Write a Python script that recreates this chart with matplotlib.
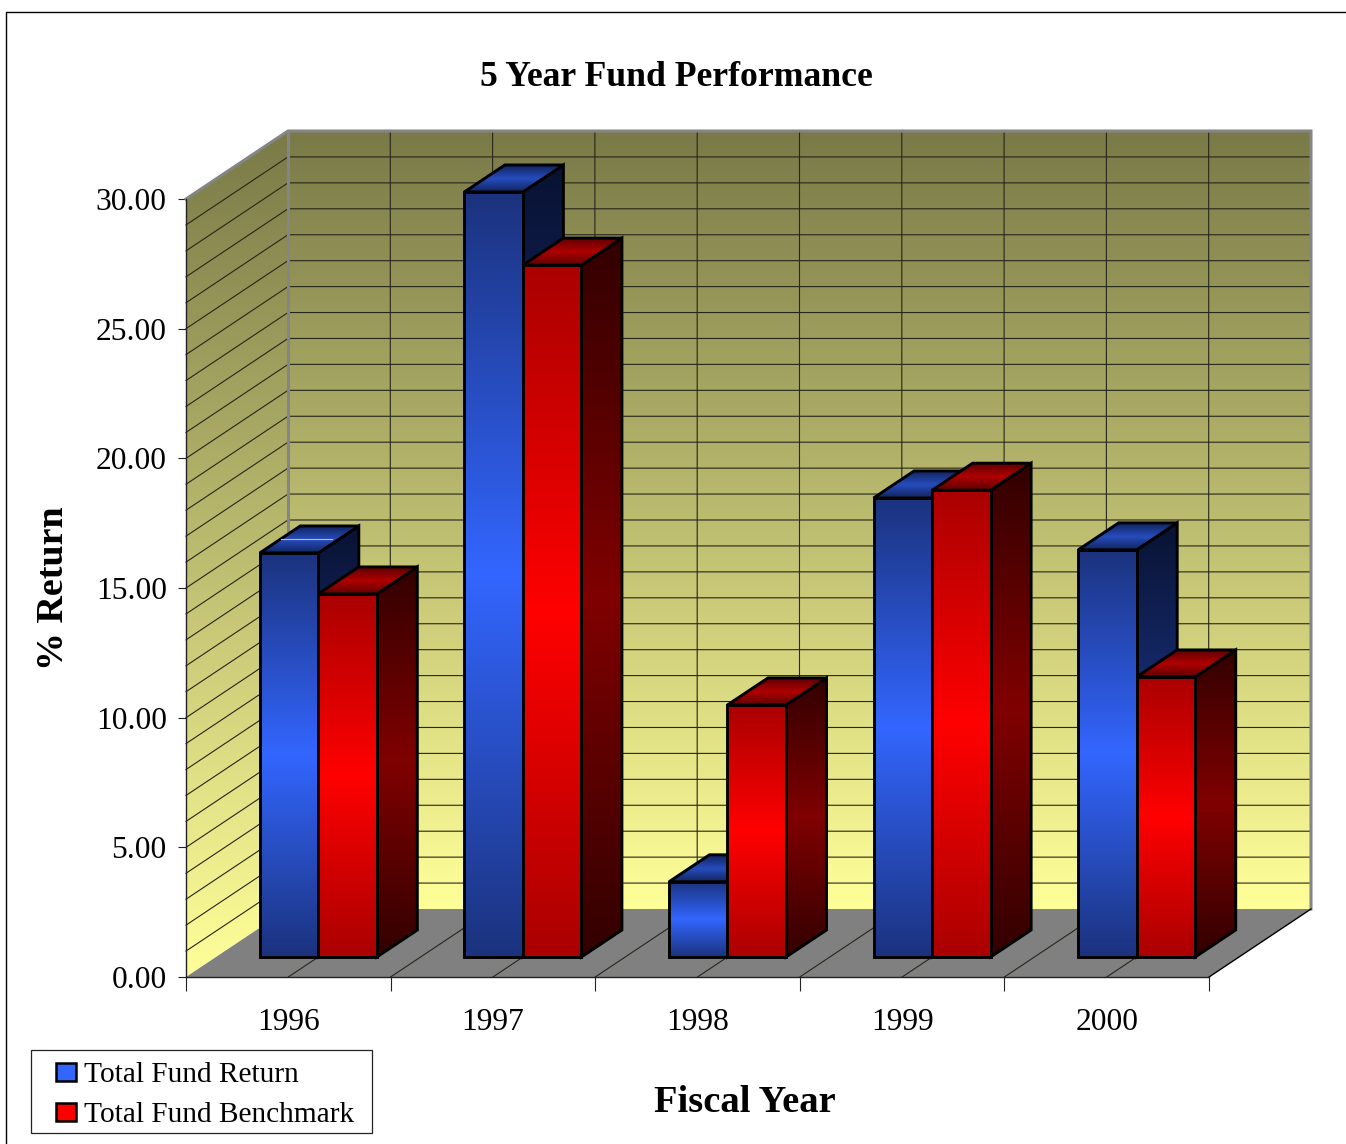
import numpy as np
import matplotlib
matplotlib.use("Agg")
import matplotlib.pyplot as plt
from matplotlib.patches import Polygon, Patch, Rectangle
from matplotlib.lines import Line2D
from matplotlib.legend_handler import HandlerPatch
from matplotlib.colors import LinearSegmentedColormap

years = ["1996", "1997", "1998", "1999", "2000"]
fund_return = [15.58, 29.5, 2.9, 17.7, 15.7]
fund_benchmark = [14.0, 26.68, 9.72, 18.0, 10.8]
y_ticks = [0, 5, 10, 15, 20, 25, 30]

W, H = 1346, 1144
plt.rcParams["font.family"] = ["Liberation Serif", "DejaVu Serif"]
fig = plt.figure(figsize=(W / 100, H / 100), dpi=100, facecolor="white")
L, R, T, B = 186, 1209, 199, 977
ax = fig.add_axes([L / W, 1 - B / H, (R - L) / W, (B - T) / H])
ax.set_xlim(0, 5)
ax.set_ylim(0, 30)
ax.set_autoscale_on(False)
ax.patch.set_visible(False)
ax.set_axisbelow(True)

DX, DY = 0.4985, 68 / (778 / 30)
BAR_W, D0, BD = 0.286, 20 / 68, 27 / 68
z = [0.6]


def nz():
    z[0] += 0.002
    return z[0]


def P(x, v, d):
    return (x + d * DX, v + d * DY)


def cmap(*cols):
    return LinearSegmentedColormap.from_list("c", [np.array(c) / 255 for c in cols])


def grad_poly(pts, cm, ec="none", lw=0):
    pts = np.array(pts)
    x0, x1, y0, y1 = pts[:, 0].min(), pts[:, 0].max(), pts[:, 1].min(), pts[:, 1].max()
    zi = nz()
    pg = Polygon(pts, closed=True, fc="none", ec=ec, lw=lw, joinstyle="miter", clip_on=False, zorder=zi + 0.001)
    ax.add_patch(pg)
    im = ax.imshow(np.linspace(1, 0, 256)[:, None], cmap=cm, vmin=0, vmax=1, extent=[x0, x1, y0, y1],
                   aspect="auto", interpolation="bilinear", origin="upper", zorder=zi)
    im.set_clip_box(fig.bbox)
    im.set_clip_path(pg)
    return pg


# walls and floor
wall_cm = cmap((255, 255, 153), (122, 122, 72))
grad_poly([P(0, 0, 1), P(5, 0, 1), P(5, 30, 1), P(0, 30, 1)], wall_cm)
grad_poly([P(0, 0, 0), P(0, 0, 1), P(0, 30, 1), P(0, 30, 0)], wall_cm)
ax.add_patch(Polygon([P(0, 0, 0), P(5, 0, 0), P(5, 0, 1), P(0, 0, 1)], fc="#808080", ec="none",
                     clip_on=False, zorder=nz()))

GRID = "#26261a"
for v in range(1, 30):
    a, b, c = P(0, v, 0), P(0, v, 1), P(5, v, 1)
    ax.plot([a[0], b[0], c[0]], [a[1], b[1], c[1]], color=GRID, lw=0.8, clip_on=False, zorder=nz())
for k in range(1, 10):
    x = k / 2
    a, b, c = P(x, 0, 0), P(x, 0, 1), P(x, 30, 1)
    ax.plot([a[0], b[0], c[0]], [a[1], b[1], c[1]], color=GRID, lw=0.8, clip_on=False, zorder=nz())

# gray wall borders
a, b, c, d = P(0, 30, 0), P(0, 30, 1), P(5, 30, 1), P(5, 0, 1)
ax.plot([a[0], b[0], c[0], d[0]], [a[1], b[1], c[1], d[1]], color="#858585", lw=2.2, clip_on=False,
        solid_joinstyle="miter", zorder=nz())
e = P(0, 0, 1)
ax.plot([b[0], e[0]], [b[1], e[1]], color="#858585", lw=2.2, clip_on=False, zorder=nz())
f, g = P(5, 0, 0), P(5, 0, 1)
ax.plot([f[0], g[0]], [f[1], g[1]], color="black", lw=1, clip_on=False, zorder=nz())

BLUE = dict(
    front=cmap((27, 50, 125), (51, 102, 255), (27, 50, 125)),
    side=cmap((9, 18, 50), (26, 51, 128), (9, 18, 50)),
    top=cmap((18, 36, 95), (38, 76, 190), (18, 36, 95)),
)
RED = dict(
    front=cmap((170, 0, 0), (255, 0, 0), (170, 0, 0)),
    side=cmap((50, 0, 0), (128, 0, 0), (50, 0, 0)),
    top=cmap((95, 0, 0), (175, 0, 0), (95, 0, 0)),
)


def bar3d(x, v, st):
    lw = 2.1
    x2 = x + BAR_W
    grad_poly([P(x2, 0, D0), P(x2, 0, D0 + BD), P(x2, v, D0 + BD), P(x2, v, D0)], st["side"], "black", lw)
    grad_poly([P(x, v, D0), P(x2, v, D0), P(x2, v, D0 + BD), P(x, v, D0 + BD)], st["top"], "black", lw)
    grad_poly([P(x, 0, D0), P(x2, 0, D0), P(x2, v, D0), P(x, v, D0)], st["front"], "black", lw)


for i in range(len(years)):
    c = i + 0.5
    bar3d(c - BAR_W, fund_return[i], BLUE)
    if i == 0:
        a, b = P(c - BAR_W, fund_return[i], D0 + BD / 2), P(c, fund_return[i], D0 + BD / 2)
        ax.plot([a[0] + 0.005, b[0] - 0.03], [a[1], b[1]], color="#d8c840", lw=0.8, clip_on=False, zorder=nz())
    bar3d(c, fund_benchmark[i], RED)

# axes furniture
for s in ("top", "right"):
    ax.spines[s].set_visible(False)
for s in ("left", "bottom"):
    ax.spines[s].set_color("#222222")
    ax.spines[s].set_linewidth(1.0)
ax.set_yticks(y_ticks)
ax.set_yticklabels([f"{v:.2f}" for v in y_ticks], fontsize=22.7)
ax.tick_params(axis="y", length=5.8, width=0.8, pad=8, color="#222222")
ax.set_xticks(np.arange(0, 6))
ax.set_xticklabels([])
ax.tick_params(axis="x", which="major", length=10, width=0.8, color="#222222")
ax.set_xticks(np.arange(len(years)) + 0.5, minor=True)
ax.set_xticklabels(years, minor=True, fontsize=22.7)
ax.tick_params(axis="x", which="minor", length=0, pad=22)

ax.set_title("5 Year Fund Performance", fontsize=25.7, fontweight="bold",
             x=(676 - L) / (R - L), y=(B - 86.5) / (B - T), pad=0, va="baseline")
ax.set_xlabel("Fiscal Year", fontsize=27.7, fontweight="bold")
ax.xaxis.set_label_coords((745 - L) / (R - L), (B - 1085) / (B - T))
ax.set_ylabel("% Return", fontsize=27.4, fontweight="bold")
ax.yaxis.set_label_coords((71 - L) / (R - L), (B - 588) / (B - T))


def swatch(legend, orig_handle, xdescent, ydescent, width, height, fontsize):
    inset = width * 16 / 36
    return Rectangle((-xdescent + inset, -ydescent), width - inset, height)


# legend frame, drawn apart so the rows can sit low inside it as in the reference
fig.add_artist(Rectangle((31 / W, 1 - 1133 / H), 341 / W, 83 / H, fc="white", ec="#222222", lw=0.9,
                         transform=fig.transFigure, zorder=9))
leg = fig.legend(
    handles=[Patch(fc="#3366FF", ec="black", lw=1.8, label="Total Fund Return"),
             Patch(fc="#FF0000", ec="black", lw=1.8, label="Total Fund Benchmark")],
    loc="lower left", bbox_to_anchor=(31 / W, 1 - 1137 / H), borderaxespad=0, fontsize=21.15,
    frameon=False, borderpad=0.3, handlelength=1.22, handleheight=0.6, handletextpad=0.27,
    labelspacing=0.47, handler_map={Patch: HandlerPatch(patch_func=swatch)})
leg.set_zorder(10)

# outer frame
fig.add_artist(Line2D([6 / W, 6 / W, 1], [0, 1 - 12 / H, 1 - 12 / H], color="black", lw=1.0,
                      transform=fig.transFigure))

fig.savefig("out.png", dpi=100, facecolor="white")
